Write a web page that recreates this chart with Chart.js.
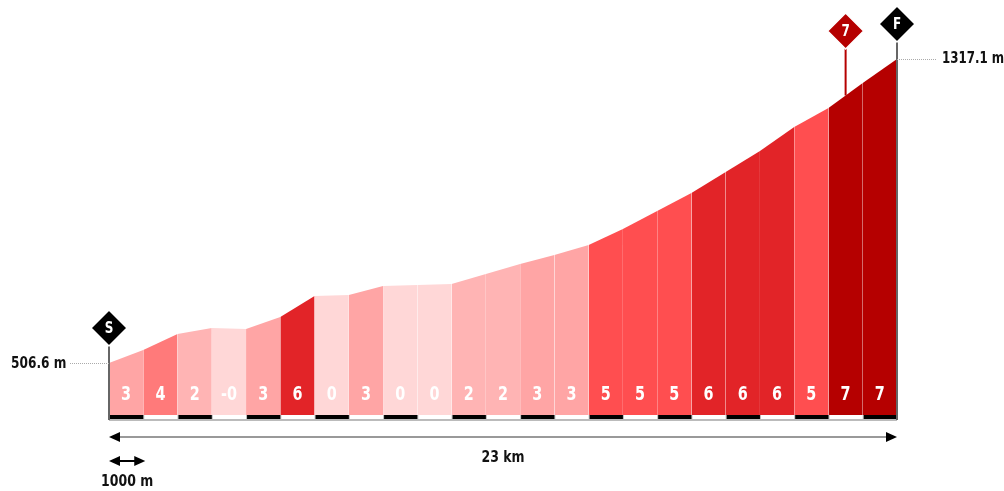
<!DOCTYPE html>
<html>
<head>
<meta charset="utf-8">
<script src="https://cdn.jsdelivr.net/npm/chart.js@4/dist/chart.umd.min.js"></script>
<style>
  html, body { margin: 0; padding: 0; background: #fff; }
  #wrap { width: 1004px; height: 491px; }
</style>
</head>
<body>
<div id="wrap"><canvas id="profile" width="1004" height="491"></canvas></div>
<script>
// km marks and elevation (m) at each km
const distances = [0,1,2,3,4,5,6,7,8,9,10,11,12,13,14,15,16,17,18,19,20,21,22,23];
const elevations = [506.6, 541.3, 583.9, 599.9, 597.2, 629.2, 685.2, 687.9, 711.9, 714.5, 717.2,
  743.9, 770.5, 794.5, 821.2, 863.9, 911.8, 959.8, 1015.8, 1071.8, 1135.8, 1186.4, 1253.1, 1317.1];
// gradient label of each 1 km segment
const gradients = ['3','4','2','-0','3','6','0','3','0','0','2','2','3','3','5','5','5','6','6','6','5','7','7'];
const gradeColors = { '0': '#FFD7D7', '2': '#FFB4B4', '3': '#FFA5A5', '4': '#FF7A7A', '5': '#FF4E50', '6': '#E22428', '7': '#B50000' };

const startLabel = '506.6 m';
const finishLabel = '1317.1 m';
const climbKm = 21.5;
const climbLabel = '7';
const totalLabel = '23 km';
const unitLabel = '1000 m';

const FONT = '"DejaVu Sans", sans-serif';

const colorFor = g => gradeColors[g.replace('-', '')];

const datasets = gradients.map((g, i) => ({
  data: [
    { x: distances[i], y: elevations[i] },
    { x: distances[i + 1], y: elevations[i + 1] }
  ],
  backgroundColor: colorFor(g),
  borderWidth: 0,
  pointRadius: 0,
  fill: 'start',
  tension: 0
}));

// narrow text: squeeze the glyphs horizontally
function narrowText(ctx, text, x, y, size, sx, align) {
  ctx.save();
  ctx.font = 'bold ' + size + 'px ' + FONT;
  ctx.textAlign = align || 'center';
  ctx.textBaseline = 'middle';
  ctx.translate(x, y);
  ctx.scale(sx, 1);
  ctx.fillText(text, 0, 0);
  ctx.restore();
}

function diamond(ctx, x, y, r, fill, text) {
  ctx.save();
  ctx.beginPath();
  ctx.moveTo(x, y - r);
  ctx.lineTo(x + r, y);
  ctx.lineTo(x, y + r);
  ctx.lineTo(x - r, y);
  ctx.closePath();
  ctx.fillStyle = fill;
  ctx.fill();
  ctx.strokeStyle = '#fff';
  ctx.lineWidth = 1.5;
  ctx.stroke();
  ctx.fillStyle = '#fff';
  narrowText(ctx, text, x, y + 1, 16, 0.75);
  ctx.restore();
}

function arrowHead(ctx, x, y, dir) {
  ctx.beginPath();
  ctx.moveTo(x, y);
  ctx.lineTo(x - dir * 11, y - 5);
  ctx.lineTo(x - dir * 11, y + 5);
  ctx.closePath();
  ctx.fill();
}

const decorations = {
  id: 'decorations',
  afterDatasetsDraw(chart) {
    const { ctx, scales: { x, y }, chartArea } = chart;
    const bottom = chartArea.bottom;
    const x0 = x.getPixelForValue(distances[0]);
    const x1 = x.getPixelForValue(distances[distances.length - 1]);
    const yStart = y.getPixelForValue(elevations[0]);
    const yEnd = y.getPixelForValue(elevations[elevations.length - 1]);

    ctx.save();
    // gradient labels
    ctx.fillStyle = '#fff';
    gradients.forEach((g, i) => {
      const cx = (x.getPixelForValue(distances[i]) + x.getPixelForValue(distances[i + 1])) / 2;
      narrowText(ctx, g, cx, bottom - 20, 20, 0.72);
    });

    // km strip
    ctx.fillStyle = '#bbb';
    ctx.fillRect(x0, bottom, x1 - x0, 6);
    gradients.forEach((g, i) => {
      const a = x.getPixelForValue(distances[i]);
      const b = x.getPixelForValue(distances[i + 1]);
      ctx.fillStyle = i % 2 === 0 ? '#000' : '#fff';
      ctx.fillRect(a + 1, bottom, b - a - 1, 4);
    });

    // vertical posts
    ctx.strokeStyle = '#666';
    ctx.lineWidth = 2;
    ctx.beginPath();
    ctx.moveTo(x0, yStart - 18);
    ctx.lineTo(x0, bottom + 5);
    ctx.moveTo(x1, yEnd - 18);
    ctx.lineTo(x1, bottom + 5);
    ctx.stroke();

    // climb post
    const cx = x.getPixelForValue(climbKm);
    const cy = y.getPixelForValue(elevations[21] + (elevations[22] - elevations[21]) * (climbKm - 21));
    ctx.strokeStyle = '#B50000';
    ctx.lineWidth = 2;
    ctx.beginPath();
    ctx.moveTo(cx, 40);
    ctx.lineTo(cx, cy);
    ctx.stroke();

    diamond(ctx, x0, yStart - 35, 18, '#000', 'S');
    diamond(ctx, x1, 24, 18, '#000', 'F');
    diamond(ctx, cx, 31, 18, '#B50000', climbLabel);

    // elevation labels with dotted leaders
    ctx.strokeStyle = '#aaa';
    ctx.lineWidth = 1;
    ctx.setLineDash([1, 1]);
    ctx.beginPath();
    ctx.moveTo(70, yStart + 0.5);
    ctx.lineTo(x0, yStart + 0.5);
    ctx.moveTo(x1, yEnd + 0.5);
    ctx.lineTo(x1 + 39, yEnd + 0.5);
    ctx.stroke();
    ctx.setLineDash([]);

    ctx.fillStyle = '#111';
    narrowText(ctx, startLabel, 11, yStart + 1, 16, 0.76, 'left');
    narrowText(ctx, finishLabel, x1 + 45, yEnd, 16, 0.74, 'left');

    // total distance arrow
    const ay = bottom + 22;
    ctx.strokeStyle = '#999';
    ctx.lineWidth = 2;
    ctx.beginPath();
    ctx.moveTo(x0 + 4, ay);
    ctx.lineTo(x1 - 4, ay);
    ctx.stroke();
    ctx.fillStyle = '#000';
    arrowHead(ctx, x0, ay, -1);
    arrowHead(ctx, x1, ay, 1);
    ctx.fillStyle = '#111';
    narrowText(ctx, totalLabel, (x0 + x1) / 2, ay + 21, 16, 0.78);

    // unit arrow
    const ux = x.getPixelForValue(distances[1]) + 2;
    const uy = bottom + 46;
    ctx.strokeStyle = '#000';
    ctx.beginPath();
    ctx.moveTo(x0 + 4, uy);
    ctx.lineTo(ux - 4, uy);
    ctx.stroke();
    ctx.fillStyle = '#000';
    arrowHead(ctx, x0, uy, -1);
    arrowHead(ctx, ux, uy, 1);
    ctx.fillStyle = '#111';
    narrowText(ctx, unitLabel, (x0 + ux) / 2, uy + 21, 16, 0.78);
    ctx.restore();
  }
};

new Chart(document.getElementById('profile'), {
  type: 'line',
  data: { datasets },
  options: {
    responsive: false,
    animation: false,
    layout: { padding: { left: 109, right: 107, top: 59, bottom: 76 } },
    scales: {
      x: { type: 'linear', display: false, min: 0, max: 23 },
      y: { display: false, min: 368, max: 1317.1 }
    },
    plugins: {
      legend: { display: false },
      tooltip: { enabled: false }
    }
  },
  plugins: [decorations]
});
</script>
</body>
</html>
